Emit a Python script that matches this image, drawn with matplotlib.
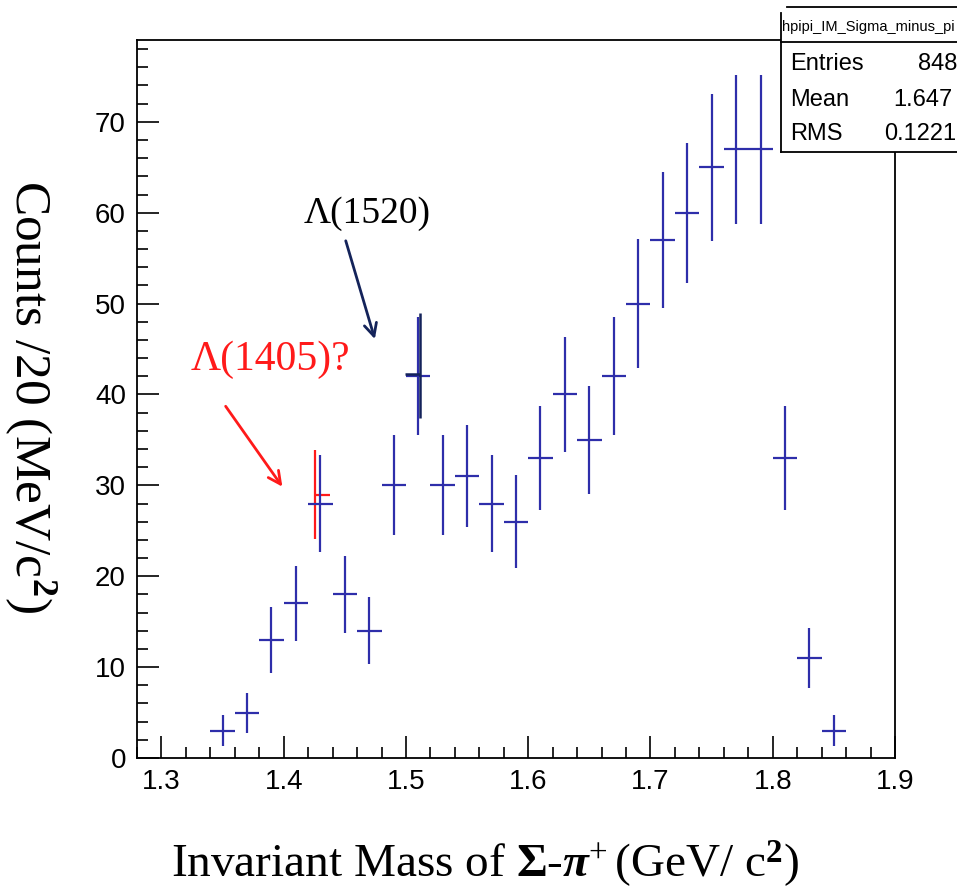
import matplotlib
matplotlib.use("Agg")
import matplotlib.pyplot as plt
from matplotlib.ticker import MultipleLocator
from matplotlib.lines import Line2D
from matplotlib.patches import Rectangle

plt.rcParams['mathtext.fontset'] = 'custom'
plt.rcParams['mathtext.rm'] = 'Liberation Serif'
plt.rcParams['mathtext.it'] = 'Liberation Serif:italic'
plt.rcParams['mathtext.bf'] = 'Liberation Serif:bold'
plt.rcParams['mathtext.bfit'] = 'Liberation Serif:bold:italic'

# ---- data ----
mass = [1.35, 1.37, 1.39, 1.41, 1.43, 1.45, 1.47, 1.49, 1.51, 1.53, 1.55, 1.57, 1.59,
        1.61, 1.63, 1.65, 1.67, 1.69, 1.71, 1.73, 1.75, 1.77, 1.79, 1.81, 1.83, 1.85]
counts = [3, 5, 13, 17, 28, 18, 14, 30, 42, 30, 31, 28, 26,
          33, 40, 35, 42, 50, 57, 60, 65, 67, 67, 33, 11, 3]
errors = [1.7, 2.2, 3.6, 4.1, 5.3, 4.2, 3.7, 5.5, 6.5, 5.5, 5.6, 5.3, 5.1,
          5.7, 6.3, 5.9, 6.5, 7.1, 7.5, 7.7, 8.1, 8.2, 8.2, 5.7, 3.3, 1.7]
half_bin = 0.01

# overlaid fragments in the picture
red_x, red_y = [1.4255], [28.9]
red_yerr = [[4.8], [5.0]]
red_xerr = [[0.0], [0.012]]
navy_x, navy_y = [1.5113], [42.2]
navy_yerr = [[4.8], [6.8]]
navy_xerr = [[0.012], [0.0]]

stats_labels = ["Entries", "Mean", "RMS"]
stats_values = ["848", "1.647", "0.1221"]
hist_name = "hpipi_IM_Sigma_minus_pi"

W, H = 957, 893
fig = plt.figure(figsize=(W / 100, H / 100), dpi=100)
ax = fig.add_axes([137 / W, 1 - 758 / H, (895 - 137) / W, (758 - 40) / H])

blue = '#2e2eaa'
ax.errorbar(mass, counts, yerr=errors, xerr=half_bin, fmt='none',
            ecolor=blue, elinewidth=1.6, capsize=0, zorder=3)
ax.errorbar(red_x, red_y, yerr=red_yerr, xerr=red_xerr, fmt='none',
            ecolor='#ff1a1a', elinewidth=1.6, capsize=0, zorder=2)
ax.errorbar(navy_x, navy_y, yerr=navy_yerr, xerr=navy_xerr, fmt='none',
            ecolor='#14235a', elinewidth=1.8, capsize=0, zorder=4)

ax.set_xlim(1.28, 1.9)
ax.set_ylim(0, 79)
ax.xaxis.set_major_locator(MultipleLocator(0.1))
ax.xaxis.set_minor_locator(MultipleLocator(0.02))
ax.yaxis.set_major_locator(MultipleLocator(10))
ax.yaxis.set_minor_locator(MultipleLocator(2))
ax.tick_params(which='both', direction='in', top=False, right=False, width=1.2)
ax.tick_params(which='major', length=16, labelsize=20, pad=8)
ax.tick_params(which='minor', length=8)
for lab in ax.get_xticklabels() + ax.get_yticklabels():
    lab.set_fontfamily('Liberation Sans')
for s in ax.spines.values():
    s.set_linewidth(1.3)

# axis labels
fig.text(30 / W, 1 - 397 / H, r"Counts /20 (MeV/c$^{\mathbf{2}}$)", rotation=270,
         ha='center', va='center', fontsize=37, family='Liberation Serif')
fig.text(485 / W, 1 - 864 / H,
         r"Invariant Mass of $\mathbf{\Sigma\text{-}}$$\mathbfit{\pi}^{+}$$\,$(GeV/ c$^{\mathbf{2}}$)",
         ha='center', va='center', fontsize=34, family='Liberation Serif')

# annotations
ax.annotate("", xy=(1.4752, 45.8), xytext=(1.4501, 57.2),
            arrowprops=dict(arrowstyle='->,head_length=0.9,head_width=0.45',
                            color='#14235a', lw=2))
ax.text(1.4681, 59.85, "Λ(1520)", ha='center', va='center', fontsize=27,
        family='Liberation Serif', color='black')
ax.annotate("", xy=(1.4002, 29.6), xytext=(1.3512, 38.95),
            arrowprops=dict(arrowstyle='->,head_length=0.9,head_width=0.45',
                            color='#ff1a1a', lw=2))
ax.text(1.3888, 43.8, "Λ(1405)?", ha='center', va='center', fontsize=30,
        family='Liberation Serif', color='#ff1a1a')

# stats box
def fx(px):
    return px / W

def fy(py):
    return 1 - py / H

fig.patches.append(Rectangle((fx(781), fy(152)), fx(W + 10) - fx(781), fy(7) - fy(152),
                             transform=fig.transFigure, facecolor='white',
                             edgecolor='none', zorder=5))
for xs, ys in [([787, W], [7, 7]), ([781, 781], [13, 152]),
               ([781, W], [42, 42]), ([781, W], [152, 152])]:
    fig.lines.append(Line2D([fx(v) for v in xs], [fy(v) for v in ys],
                            transform=fig.transFigure, color='black', lw=1.3, zorder=6))
fig.text(fx(782), fy(27), hist_name, ha='left', va='center', fontsize=10.5,
         family='Liberation Sans', zorder=7)
row_y = [64, 100, 134]
val_x = [918, 893, 884]
for lab, val, ry, vx in zip(stats_labels, stats_values, row_y, val_x):
    fig.text(fx(790), fy(ry), lab, ha='left', va='center', fontsize=17,
             family='Liberation Sans', zorder=7)
    fig.text(fx(vx), fy(ry), val, ha='left', va='center', fontsize=17,
             family='Liberation Sans', zorder=7)

fig.savefig("out.png", dpi=100)
